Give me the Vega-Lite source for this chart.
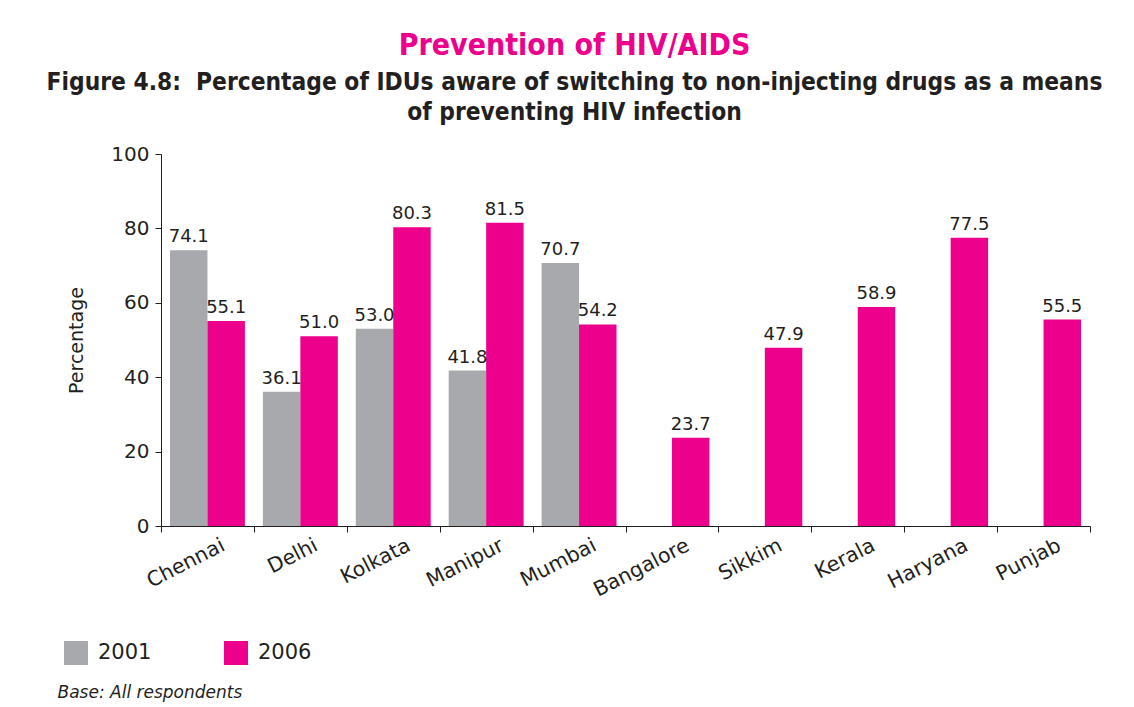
{
  "$schema": "https://vega.github.io/schema/vega-lite/v6.json",
  "width": 929,
  "height": 372,
  "autosize": {"type": "none"},
  "padding": {"left": 161, "top": 154, "right": 44, "bottom": 181},
  "background": "white",
  "title": {
    "text": "Prevention of HIV/AIDS",
    "subtitle": ["Figure 4.8: \u00a0Percentage of IDUs aware of switching to non-injecting drugs as a means", "of preventing HIV infection"],
    "anchor": "middle",
    "frame": "group",
    "dx": -51,
    "offset": 19,
    "font": "DejaVu Sans Condensed",
    "fontSize": 30,
    "fontWeight": "bold",
    "color": "#ec008c",
    "subtitleFont": "DejaVu Sans Condensed",
    "subtitleFontSize": 24.3,
    "subtitleFontWeight": "bold",
    "subtitleColor": "#231f20",
    "subtitleLineHeight": 30,
    "subtitlePadding": 10
  },
  "data": {
    "values": [
      {"city": "Chennai", "year": "2001", "pct": 74.1},
      {"city": "Chennai", "year": "2006", "pct": 55.1},
      {"city": "Delhi", "year": "2001", "pct": 36.1},
      {"city": "Delhi", "year": "2006", "pct": 51.0},
      {"city": "Kolkata", "year": "2001", "pct": 53.0},
      {"city": "Kolkata", "year": "2006", "pct": 80.3},
      {"city": "Manipur", "year": "2001", "pct": 41.8},
      {"city": "Manipur", "year": "2006", "pct": 81.5},
      {"city": "Mumbai", "year": "2001", "pct": 70.7},
      {"city": "Mumbai", "year": "2006", "pct": 54.2},
      {"city": "Bangalore", "year": "2006", "pct": 23.7},
      {"city": "Sikkim", "year": "2006", "pct": 47.9},
      {"city": "Kerala", "year": "2006", "pct": 58.9},
      {"city": "Haryana", "year": "2006", "pct": 77.5},
      {"city": "Punjab", "year": "2006", "pct": 55.5}
    ]
  },
  "encoding": {
    "x": {
      "field": "city",
      "type": "nominal",
      "sort": null,
      "scale": {"paddingInner": 0, "paddingOuter": 0},
      "axis": {
        "title": "Base: All respondents",
        "titleFont": "DejaVu Sans",
        "titleFontStyle": "italic",
        "titleFontWeight": "normal",
        "titleFontSize": 17,
        "titleColor": "#231f20",
        "titleAlign": "left",
        "titleAnchor": "start",
        "titleBaseline": "alphabetic",
        "titleX": -104,
        "titleY": 171,
        "tickBand": "extent",
        "tickSize": 6,
        "tickColor": "#231f20",
        "domainColor": "#231f20",
        "labelAngle": -27,
        "labelAlign": "right",
        "labelBaseline": "top",
        "labelOffset": 11,
        "labelPadding": 3,
        "labelFont": "DejaVu Sans",
        "labelFontSize": 20.5,
        "labelColor": "#231f20"
      }
    },
    "xOffset": {
      "field": "year",
      "type": "nominal",
      "scale": {"domain": ["2001", "2006"], "paddingInner": 0, "paddingOuter": 0.24}
    },
    "y": {
      "field": "pct",
      "type": "quantitative",
      "scale": {"domain": [0, 100]},
      "axis": {
        "title": "Percentage",
        "titleFont": "DejaVu Sans",
        "titleFontWeight": "normal",
        "titleFontSize": 19,
        "titleColor": "#231f20",
        "titlePadding": 24,
        "values": [0, 20, 40, 60, 80, 100],
        "grid": false,
        "tickSize": 6,
        "tickColor": "#231f20",
        "domainColor": "#231f20",
        "labelPadding": 6,
        "labelFont": "DejaVu Sans",
        "labelFontSize": 20,
        "labelColor": "#231f20"
      }
    }
  },
  "layer": [
    {
      "mark": {"type": "bar"},
      "encoding": {
        "color": {
          "field": "year",
          "type": "nominal",
          "scale": {"domain": ["2001", "2006"], "range": ["#a7a9ac", "#ec008c"]},
          "legend": {
            "title": null,
            "orient": "none",
            "direction": "horizontal",
            "legendX": -97,
            "legendY": 487,
            "symbolType": "square",
            "symbolSize": 576,
            "symbolStrokeWidth": 0,
            "labelFont": "DejaVu Sans",
            "labelFontSize": 21,
            "labelColor": "#231f20",
            "labelOffset": 10,
            "columnPadding": 72
          }
        }
      }
    },
    {
      "mark": {"type": "text", "baseline": "alphabetic", "dy": -8, "font": "DejaVu Sans", "fontSize": 18, "color": "#231f20"},
      "encoding": {
        "text": {"field": "pct", "type": "quantitative", "format": ".1f"}
      }
    }
  ],
  "config": {
    "view": {"stroke": null}
  }
}
